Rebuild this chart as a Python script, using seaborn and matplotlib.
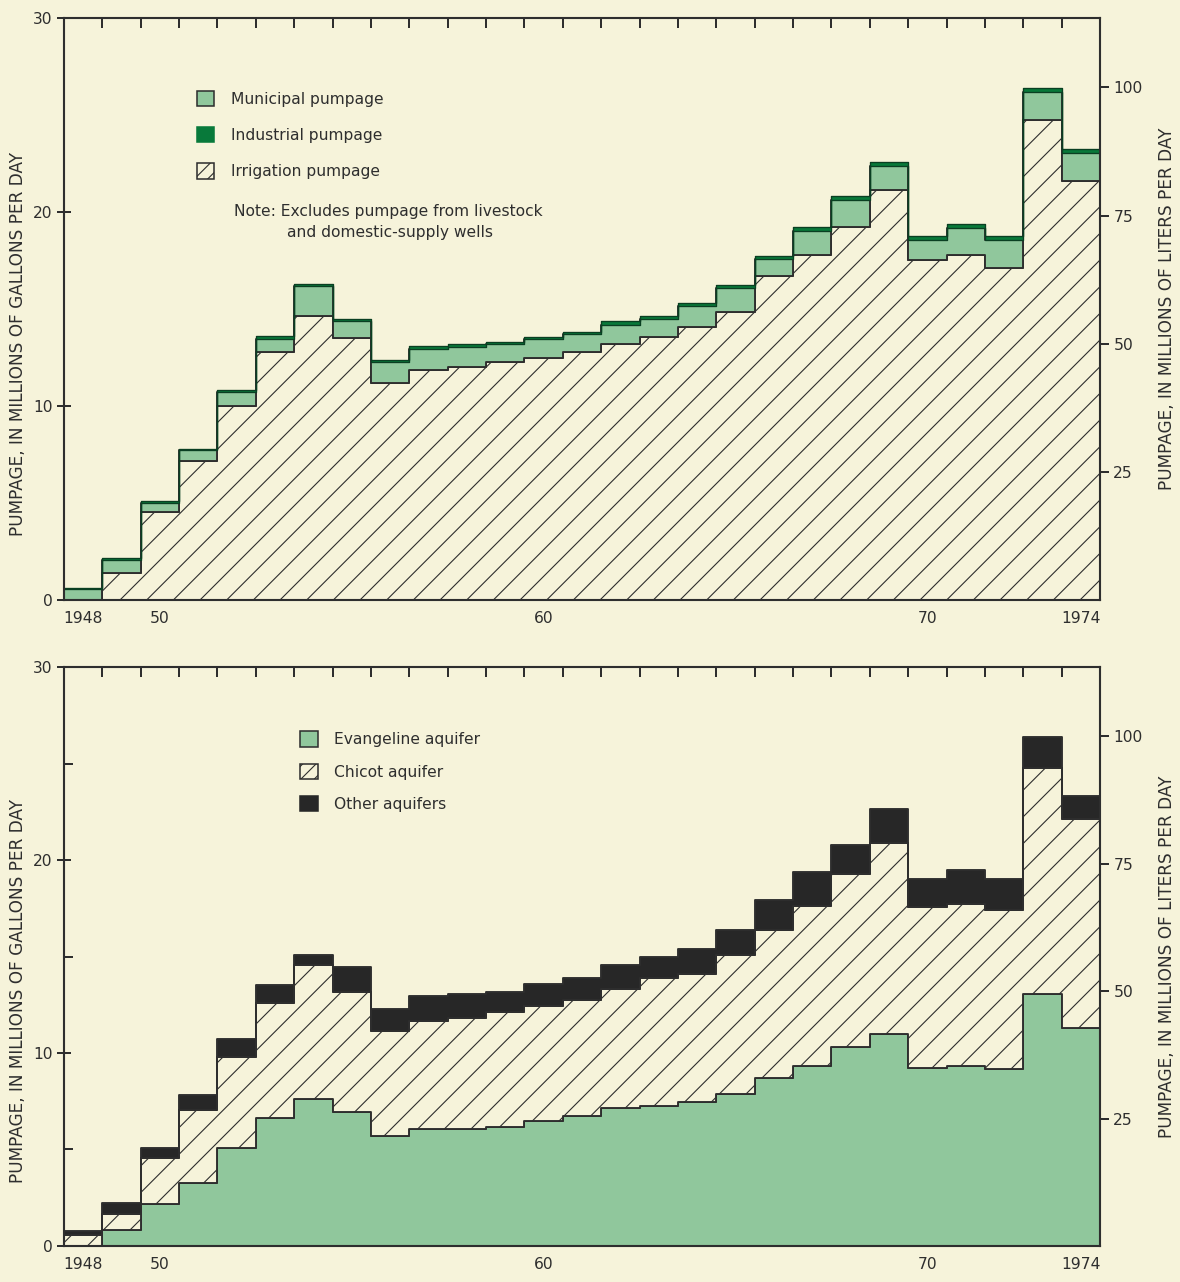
import numpy as np
import pandas as pd
import matplotlib
matplotlib.use("Agg")
import matplotlib.pyplot as plt
from matplotlib.patches import Patch
from matplotlib.ticker import FixedLocator
from matplotlib.colors import to_rgba
import seaborn as sns

# ---- data: pumpage, million gallons per day ----
years = list(range(1948, 1975))

irrigation = [0.0, 1.37, 4.56, 7.14, 9.98, 12.77, 14.66, 13.5, 11.2, 11.87,
              12.0, 12.25, 12.46, 12.8, 13.17, 13.57, 14.05, 14.82, 16.72, 17.79,
              19.23, 21.15, 17.5, 17.77, 17.12, 24.75, 21.61]
municipal = [0.55, 0.7, 0.45, 0.58, 0.74, 0.7, 1.5, 0.9, 1.05, 1.08,
             1.05, 0.92, 0.97, 0.9, 1.0, 0.9, 1.1, 1.25, 0.85, 1.24,
             1.38, 1.2, 1.05, 1.41, 1.45, 1.43, 1.43]
industrial = [0.08, 0.07, 0.09, 0.08, 0.08, 0.13, 0.14, 0.1, 0.1, 0.12,
              0.12, 0.11, 0.12, 0.12, 0.19, 0.16, 0.15, 0.17, 0.18, 0.18,
              0.19, 0.2, 0.2, 0.2, 0.18, 0.2, 0.2]

evangeline = [0.0, 0.81, 2.18, 3.26, 5.09, 6.63, 7.63, 6.96, 5.72, 6.07,
              6.07, 6.17, 6.49, 6.75, 7.13, 7.24, 7.45, 7.9, 8.7, 9.32,
              10.33, 10.99, 9.22, 9.32, 9.16, 13.08, 11.31]
chicot = [0.56, 0.83, 2.39, 3.79, 4.68, 5.95, 6.92, 6.22, 5.4, 5.61,
          5.76, 5.93, 5.92, 6.0, 6.2, 6.67, 6.63, 7.16, 7.65, 8.31,
          8.97, 9.91, 8.34, 8.39, 8.24, 11.68, 10.8]
other = [0.21, 0.58, 0.52, 0.79, 0.93, 0.93, 0.52, 1.27, 1.15, 1.29,
         1.25, 1.08, 1.19, 1.15, 1.21, 1.09, 1.29, 1.31, 1.59, 1.75,
         1.5, 1.73, 1.46, 1.79, 1.62, 1.63, 1.19]

year_ticks = [1948, 1950, 1960, 1970, 1974]
year_labels = ["1948", "50", "60", "70", "1974"]
gal_ticks = [0, 10, 20, 30]
liter_ticks = [25, 50, 75, 100]
LITERS_PER_GALLON = 3.785

# ---- style ----
PAPER = "#f6f3da"
GREEN = "#90c79c"
DARK_GREEN = "#08793a"
BLACK = "#272727"
INK = "#2e2e2e"

sns.set_theme(style="white")
plt.rcParams["font.family"] = ["DejaVu Sans"]
plt.rcParams.update({
    "hatch.color": INK,
    "hatch.linewidth": 0.5,
    "axes.edgecolor": INK,
    "text.color": INK,
    "xtick.color": INK,
    "ytick.color": INK,
    "axes.labelcolor": INK,
})

FS = 7
LABEL_FS = 7.6

fig = plt.figure(figsize=(7.375, 8.0125), dpi=160, facecolor=PAPER)
ax_top = fig.add_axes([0.0542, 0.532, 0.878, 0.454])
ax_bot = fig.add_axes([0.0542, 0.0281, 0.878, 0.4516])

edges = np.arange(1947.5, 1975.0, 1.0)


def stacked_steps(ax, layers, colors, hatched_name, thin_name=None):
    """Draw stacked step areas; layers are ordered bottom to top."""
    names = list(layers)
    df = pd.concat(
        [pd.DataFrame({"year": years, "mgd": vals, "source": name})
         for name, vals in layers.items()],
        ignore_index=True,
    )
    sns.histplot(
        data=df, x="year", weights="mgd", hue="source",
        hue_order=names[::-1], multiple="stack", element="step",
        binwidth=1, binrange=(1947.5, 1974.5), palette=colors, alpha=1,
        edgecolor=INK, linewidth=0.85, legend=False, ax=ax,
    )
    for coll in ax.collections:
        fc = tuple(np.round(coll.get_facecolor()[0], 3))
        if fc == tuple(np.round(to_rgba(colors[hatched_name]), 3)):
            coll.set_hatch("//")
        if thin_name is not None and fc == tuple(np.round(to_rgba(colors[thin_name]), 3)):
            coll.set_edgecolor("#0a3f22")
            coll.set_linewidth(0.6)


def frame_axes(ax, minor_gal):
    ax.set_facecolor(PAPER)
    ax.set_xlim(1947.5, 1974.5)
    ax.set_ylim(0, 30)
    ax.set_xlabel("")
    ax.set_ylabel("PUMPAGE, IN MILLIONS OF GALLONS PER DAY", fontsize=LABEL_FS)
    ax.yaxis.set_label_coords(-0.036, 0.44)
    for sp in ax.spines.values():
        sp.set_visible(True)
        sp.set_linewidth(0.95)
        sp.set_color(INK)

    # years: labels at bar centres, tick marks at bar boundaries
    ax.set_xticks(year_ticks)
    ax.set_xticklabels(year_labels, fontsize=FS)
    ax.xaxis.set_minor_locator(FixedLocator(edges[1:-1]))
    ax.tick_params(axis="x", which="major", length=0, pad=5, bottom=True)
    ax.tick_params(axis="x", which="minor", direction="in", length=4.4,
                   width=0.9, bottom=True, top=True)

    ax.set_yticks(gal_ticks)
    ax.set_yticklabels([str(v) for v in gal_ticks], fontsize=FS)
    ax.tick_params(axis="y", which="major", direction="inout", length=6,
                   width=0.9, left=True, right=True, pad=2)
    for t in (ax.yaxis.get_major_ticks()[0], ax.yaxis.get_major_ticks()[-1]):
        t.tick1line.set_visible(False)
        t.tick2line.set_visible(False)
    if minor_gal:
        ax.yaxis.set_minor_locator(FixedLocator(minor_gal))
        ax.tick_params(axis="y", which="minor", direction="in", length=4,
                       width=0.9, left=True, right=True)
    ax.grid(False)

    # liters per day on the right
    ax2 = ax.twinx()
    ax2.set_ylim(0, 30 * LITERS_PER_GALLON)
    ax2.set_yticks(liter_ticks)
    ax2.set_yticklabels([str(v) for v in liter_ticks], fontsize=FS)
    ax2.tick_params(axis="y", direction="out", length=4, width=0.9, pad=2,
                    right=True)
    ax2.set_ylabel("PUMPAGE, IN MILLIONS OF LITERS PER DAY", fontsize=LABEL_FS,
                   rotation=90)
    ax2.yaxis.set_label_coords(1.056, 0.5)
    for sp in ax2.spines.values():
        sp.set_visible(False)
    ax2.grid(False)
    return ax2


# ---- top: pumpage by use ----
top_colors = {"Irrigation pumpage": PAPER,
              "Municipal pumpage": GREEN,
              "Industrial pumpage": DARK_GREEN}
stacked_steps(ax_top,
              {"Irrigation pumpage": irrigation,
               "Municipal pumpage": municipal,
               "Industrial pumpage": industrial},
              top_colors, "Irrigation pumpage", thin_name="Industrial pumpage")
frame_axes(ax_top, None)

top_handles = [
    Patch(facecolor=GREEN, edgecolor=INK, linewidth=0.7, label="Municipal pumpage"),
    Patch(facecolor=DARK_GREEN, edgecolor=DARK_GREEN, linewidth=0.7, label="Industrial pumpage"),
    Patch(facecolor=PAPER, edgecolor=INK, linewidth=0.7, hatch="////", label="Irrigation pumpage"),
]
ax_top.legend(handles=top_handles, loc="upper left", bbox_to_anchor=(0.128, 0.875),
              frameon=False, fontsize=FS, handlelength=1.15, handleheight=1.15,
              handletextpad=1.05, labelspacing=1.3, borderpad=0, borderaxespad=0)
ax_top.text(0.164, 0.667, "Note: Excludes pumpage from livestock",
            transform=ax_top.transAxes, fontsize=FS, va="center", ha="left")
ax_top.text(0.215, 0.631, "and domestic-supply wells",
            transform=ax_top.transAxes, fontsize=FS, va="center", ha="left")

# ---- bottom: pumpage by aquifer ----
bot_colors = {"Evangeline aquifer": GREEN,
              "Chicot aquifer": PAPER,
              "Other aquifers": BLACK}
stacked_steps(ax_bot,
              {"Evangeline aquifer": evangeline,
               "Chicot aquifer": chicot,
               "Other aquifers": other},
              bot_colors, "Chicot aquifer")
frame_axes(ax_bot, [5, 15, 25])

bot_handles = [
    Patch(facecolor=GREEN, edgecolor=INK, linewidth=0.7, label="Evangeline aquifer"),
    Patch(facecolor=PAPER, edgecolor=INK, linewidth=0.7, hatch="////", label="Chicot aquifer"),
    Patch(facecolor=BLACK, edgecolor=BLACK, linewidth=0.7, label="Other aquifers"),
]
ax_bot.legend(handles=bot_handles, loc="upper left", bbox_to_anchor=(0.228, 0.889),
              frameon=False, fontsize=FS, handlelength=1.15, handleheight=1.15,
              handletextpad=1.05, labelspacing=1.05, borderpad=0, borderaxespad=0)

fig.savefig("out.png", dpi=160, facecolor=PAPER)
